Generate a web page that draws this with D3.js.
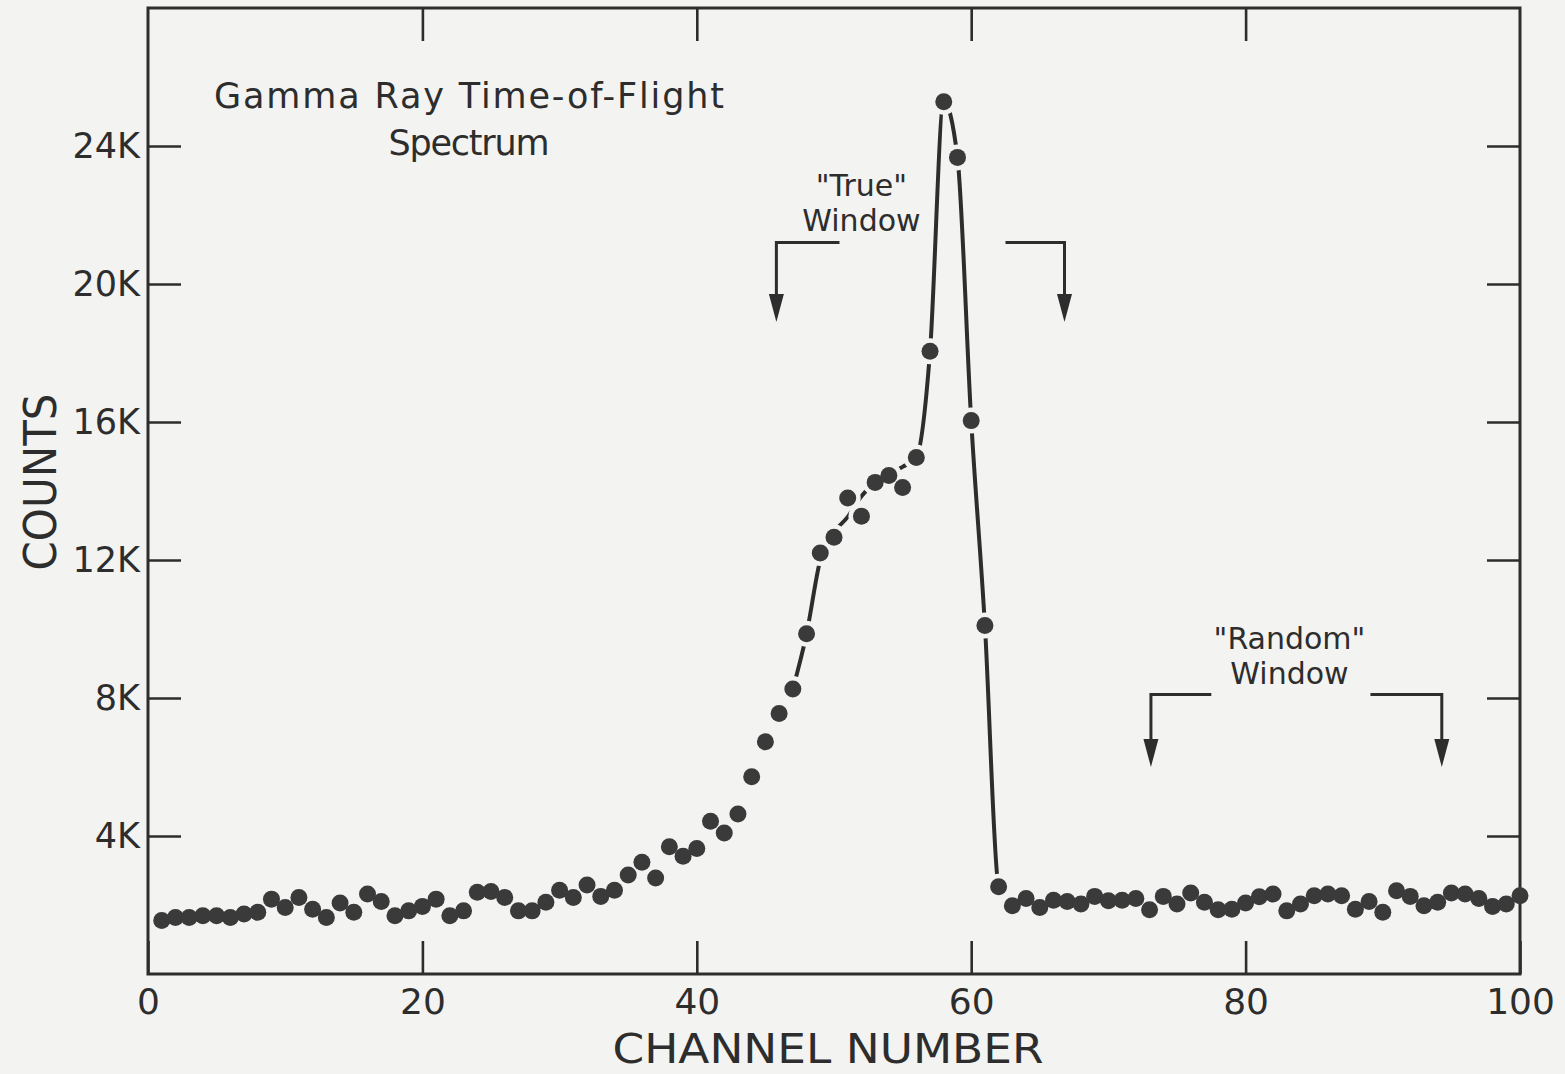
<!DOCTYPE html>
<html>
<head>
<meta charset="utf-8">
<script src="https://cdn.jsdelivr.net/npm/d3@7"></script>
<style>
  html, body { margin: 0; padding: 0; background: #f3f3f1; }
  svg { display: block; }
  text { font-family: "DejaVu Sans", "Liberation Sans", sans-serif; fill: #2d2d2d; }
</style>
</head>
<body>
<svg id="chart" width="1565" height="1074"></svg>
<script>
// Gamma ray time-of-flight spectrum: counts per channel
const channels = d3.range(1, 101);
const counts = [
  1550, 1640, 1640, 1690, 1690, 1640, 1740, 1790, 2170, 1930,
  2220, 1880, 1640, 2060, 1790, 2320, 2100, 1690, 1830, 1960,
  2170, 1690, 1830, 2370, 2390, 2220, 1830, 1830, 2080, 2430,
  2220, 2580, 2250, 2430, 2870, 3240, 2780, 3690, 3410, 3640,
  4430, 4090, 4640, 5720, 6730, 7550, 8260, 9860, 12200, 12660,
  13800, 13270, 14250, 14450, 14100, 14970, 18050, 25280, 23670, 16040,
  10100, 2530, 1980, 2190, 1930, 2140, 2100, 2030, 2250, 2120,
  2140, 2190, 1860, 2250, 2030, 2350, 2080, 1860, 1880, 2060,
  2240, 2320, 1830, 2030, 2270, 2320, 2270, 1880, 2100, 1790,
  2410, 2250, 1980, 2080, 2350, 2320, 2190, 1960, 2030, 2270
];

// Hand-drawn guide curve through the prompt peak
const fitChannels = d3.range(47, 64);
const fitCounts = [
  8260, 9860, 12000, 12800, 13250, 13850, 14250, 14500, 14700, 14970,
  18050, 25280, 23670, 16040, 10100, 2530, 1980
];

const xTickValues = [0, 20, 40, 60, 80, 100];
const xTickLabels = ["0", "20", "40", "60", "80", "100"];
const yTickValues = [4000, 8000, 12000, 16000, 20000, 24000];
const yTickLabels = ["4K", "8K", "12K", "16K", "20K", "24K"];

// Timing windows marked above the spectrum
const windowNames = ['"True"', '"Random"'];
const windowStart = [45.8, 73.1];
const windowEnd = [66.8, 94.3];

const ink = "#2d2d2d";
const paper = "#f3f3f1";
const svg = d3.select("#chart");
const W = 1565, H = 1074;

svg.append("rect").attr("width", W).attr("height", H).attr("fill", paper);

const x = d3.scaleLinear().domain([0, 100]).range([148, 1520]);
const y = d3.scaleLinear().domain([0, 28000]).range([974, 8]);

const tickLen = 33;

// Frame
svg.append("rect")
  .attr("x", x(0)).attr("y", y(28000))
  .attr("width", x(100) - x(0)).attr("height", y(0) - y(28000))
  .attr("fill", "none").attr("stroke", ink).attr("stroke-width", 3);

function styleAxis(g) {
  g.select(".domain").remove();
  g.selectAll(".tick line").attr("stroke", ink).attr("stroke-width", 2.6);
  g.selectAll(".tick text").attr("fill", ink).attr("font-family", '"DejaVu Sans", sans-serif');
}

// Left axis with labels
svg.append("g")
  .attr("transform", `translate(${x(0)},0)`)
  .call(d3.axisLeft(y).tickValues(yTickValues).tickSize(-tickLen).tickPadding(8)
    .tickFormat((d, i) => yTickLabels[i]))
  .call(styleAxis)
  .call(g => g.selectAll(".tick text").attr("font-size", 35));

// Right axis ticks
svg.append("g")
  .attr("transform", `translate(${x(100)},0)`)
  .call(d3.axisRight(y).tickValues(yTickValues).tickSize(-tickLen).tickFormat(""))
  .call(styleAxis);

// Bottom axis with labels
svg.append("g")
  .attr("transform", `translate(0,${y(0)})`)
  .call(d3.axisBottom(x).tickValues(xTickValues).tickSize(-tickLen).tickPadding(14)
    .tickFormat((d, i) => xTickLabels[i]))
  .call(styleAxis)
  .call(g => g.selectAll(".tick text").attr("font-size", 36));

// Top axis ticks
svg.append("g")
  .attr("transform", `translate(0,${y(28000)})`)
  .call(d3.axisTop(x).tickValues(xTickValues.slice(1, -1)).tickSize(-tickLen).tickFormat(""))
  .call(styleAxis);

// Guide curve
const fitData = fitChannels.map((c, i) => [c, fitCounts[i]]);
svg.append("path")
  .datum(fitData)
  .attr("d", d3.line().x(d => x(d[0])).y(d => y(d[1])).curve(d3.curveMonotoneX))
  .attr("fill", "none").attr("stroke", ink).attr("stroke-width", 4)
  .attr("stroke-linecap", "round");

// Gaps in the curve around each plotted point
const points = channels.map((c, i) => ({ c, v: counts[i] }));
svg.append("g").selectAll("circle")
  .data(points.filter(p => p.c >= fitChannels[0] && p.c <= fitChannels[fitChannels.length - 1]))
  .join("circle")
  .attr("cx", d => x(d.c)).attr("cy", d => y(d.v)).attr("r", 13)
  .attr("fill", paper);

// Data points
svg.append("g").selectAll("circle")
  .data(points)
  .join("circle")
  .attr("cx", d => x(d.c)).attr("cy", d => y(d.v)).attr("r", 8.5)
  .attr("fill", "#3a3a3a");

// Title
svg.append("text").attr("x", 469).attr("y", 108).attr("text-anchor", "middle")
  .attr("font-size", 35).attr("textLength", 510).attr("lengthAdjust", "spacing")
  .text("Gamma Ray Time-of-Flight");
svg.append("text").attr("x", 469).attr("y", 155).attr("text-anchor", "middle")
  .attr("font-size", 35).attr("textLength", 161).attr("lengthAdjust", "spacing")
  .text("Spectrum");

// Axis titles
svg.append("text")
  .attr("transform", "translate(56,482) rotate(-90)")
  .attr("text-anchor", "middle").attr("font-size", 45)
  .attr("textLength", 177).attr("lengthAdjust", "spacingAndGlyphs")
  .text("COUNTS");
svg.append("text")
  .attr("x", 828).attr("y", 1063).attr("text-anchor", "middle")
  .attr("font-size", 41).attr("textLength", 431).attr("lengthAdjust", "spacingAndGlyphs")
  .text("CHANNEL NUMBER");

// Window brackets
const windowLabelAt = [[52.0, 22550], [83.2, 9420]];
const bracketLevel = [21200, 8100];
const arrowTip = [18900, 6000];
const armLeft = [4.6, 4.4];
const armRight = [4.3, 5.2];

windowNames.forEach((name, i) => {
  const g = svg.append("g");
  const [lc, lv] = windowLabelAt[i];
  g.append("text").attr("x", x(lc)).attr("y", y(lv)).attr("text-anchor", "middle")
    .attr("font-size", 30).text(name);
  g.append("text").attr("x", x(lc)).attr("y", y(lv) + 35).attr("text-anchor", "middle")
    .attr("font-size", 30).text("Window");

  const by = y(bracketLevel[i]);
  const ty = y(arrowTip[i]);
  const sides = [
    { xv: x(windowStart[i]), xe: x(windowStart[i] + armLeft[i]) },
    { xv: x(windowEnd[i]), xe: x(windowEnd[i] - armRight[i]) }
  ];
  sides.forEach(s => {
    g.append("path")
      .attr("d", `M${s.xe},${by} L${s.xv},${by} L${s.xv},${ty - 20}`)
      .attr("fill", "none").attr("stroke", ink).attr("stroke-width", 3);
    g.append("path")
      .attr("d", `M${s.xv - 7.5},${ty - 28} L${s.xv + 7.5},${ty - 28} L${s.xv},${ty} Z`)
      .attr("fill", ink);
  });
});
</script>
</body>
</html>
